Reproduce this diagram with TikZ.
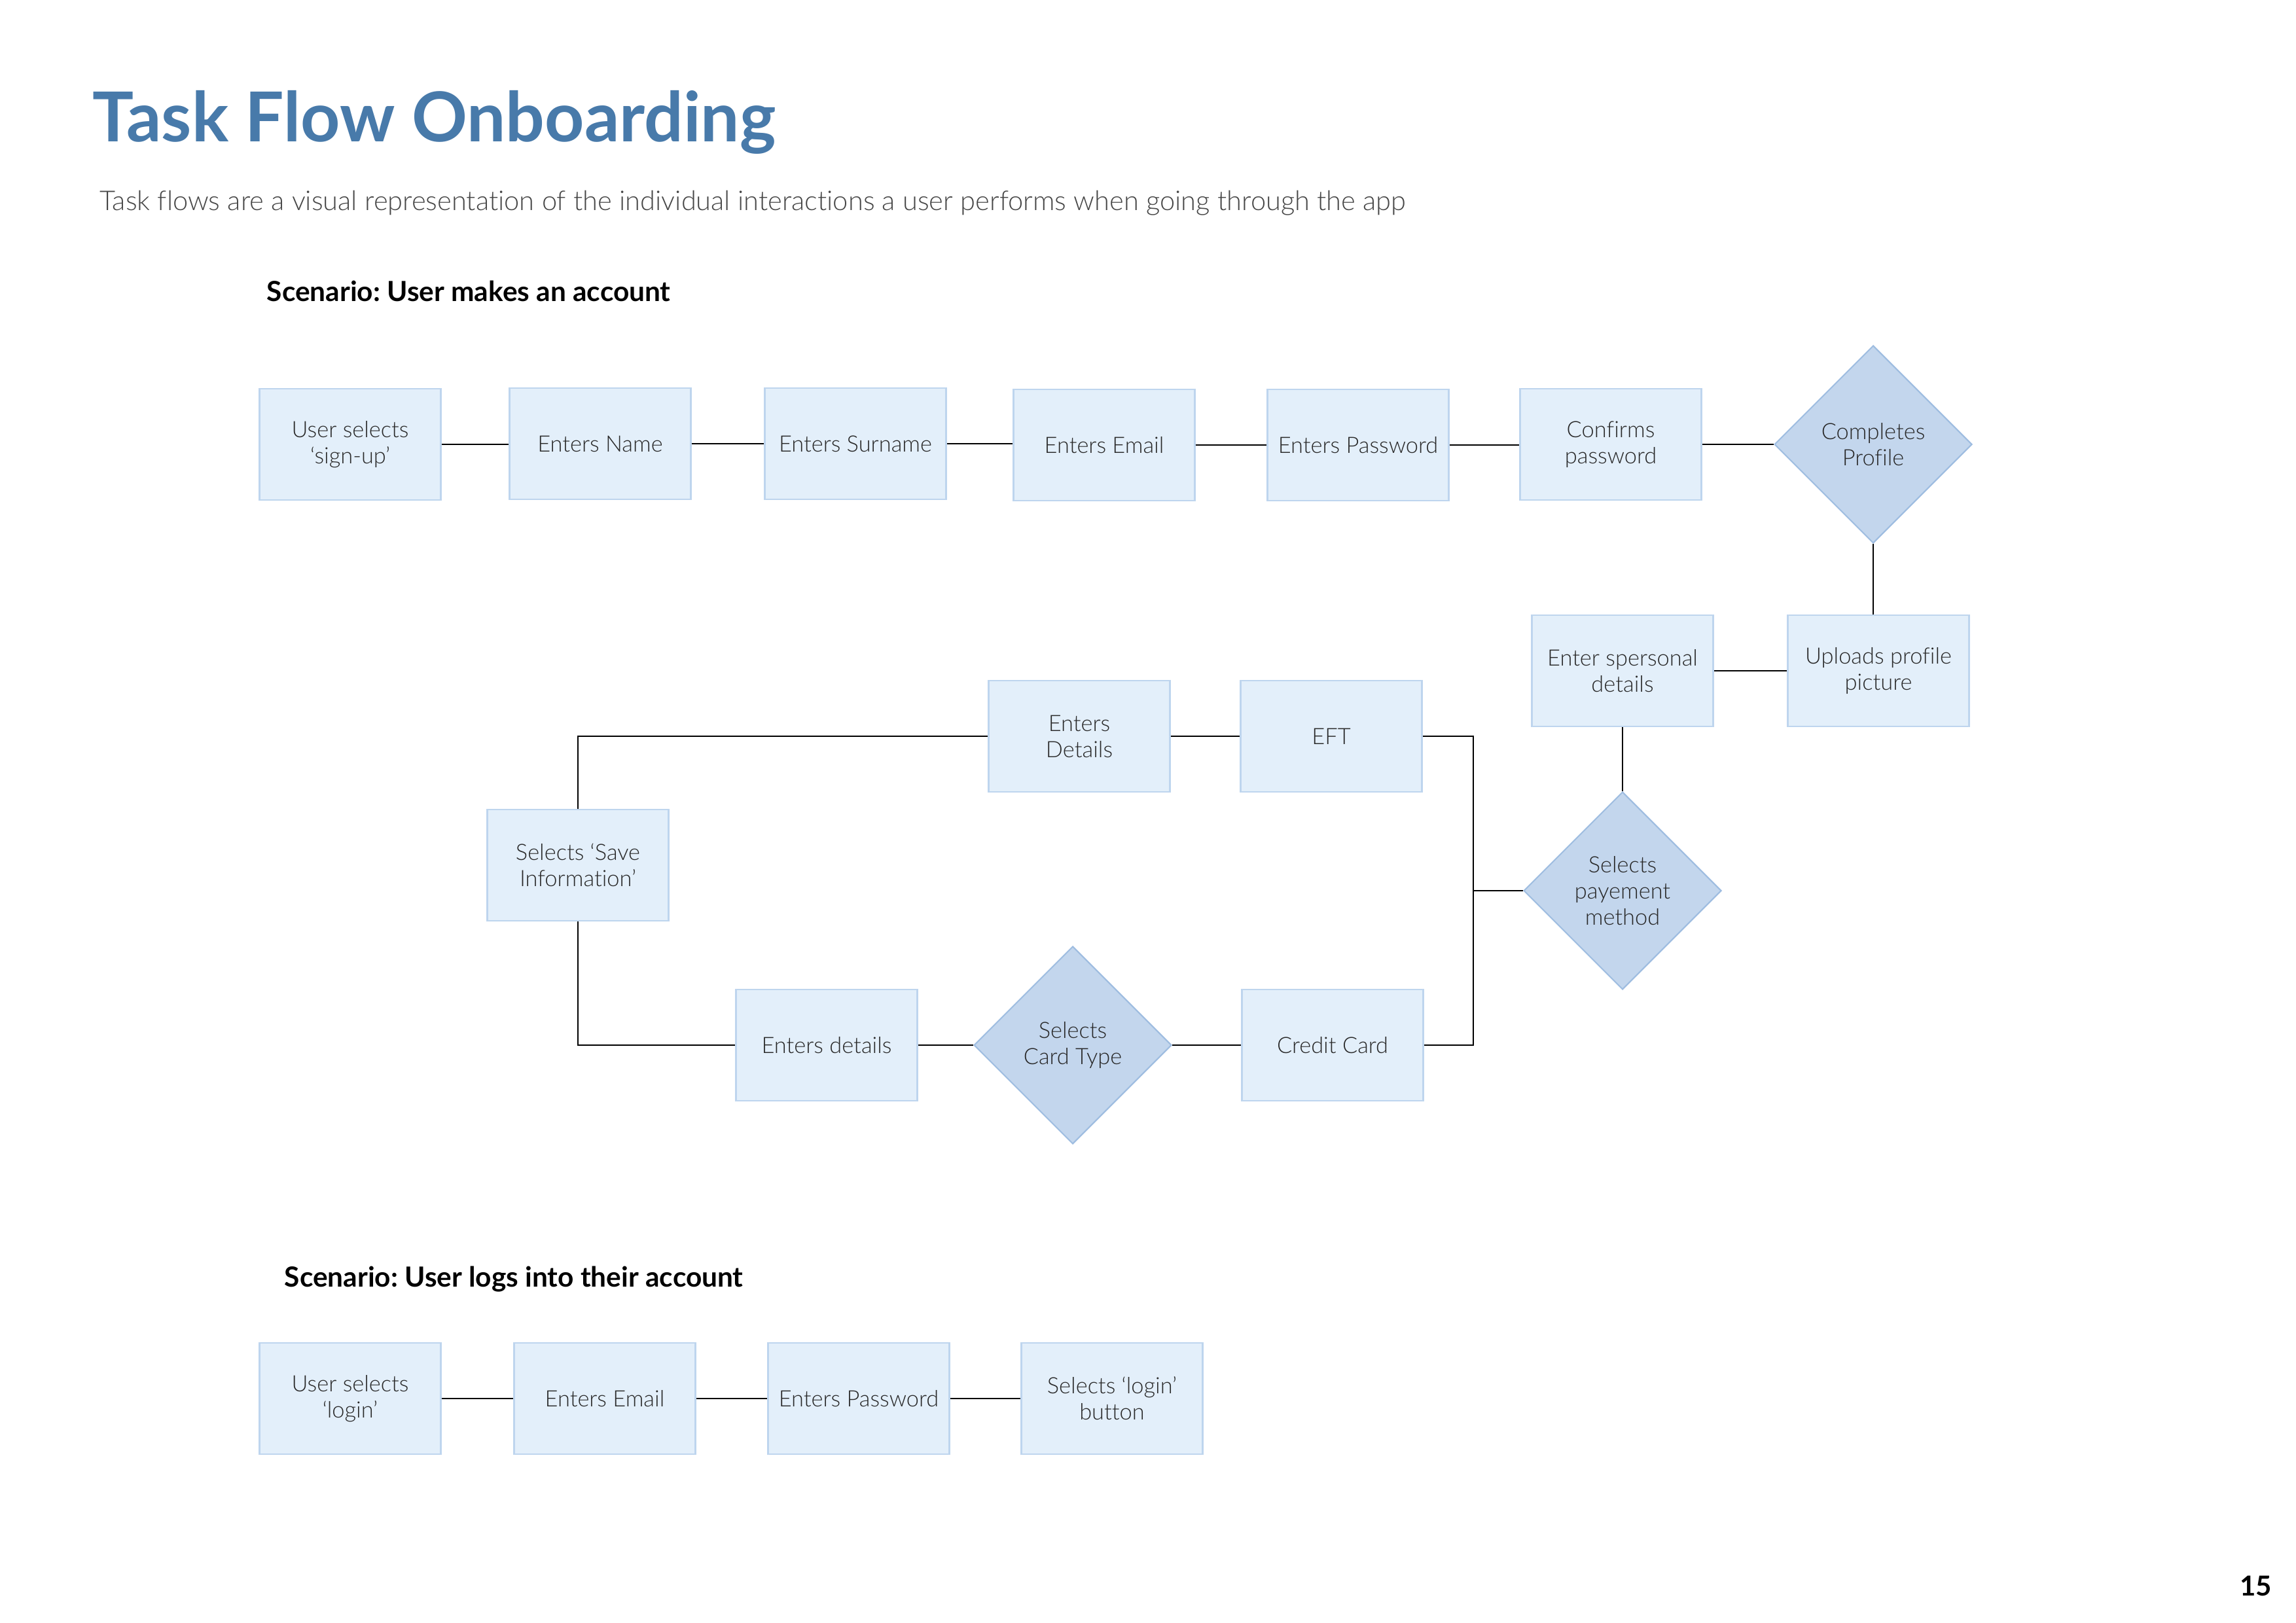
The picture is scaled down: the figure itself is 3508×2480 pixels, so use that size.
\documentclass[tikz,border=0pt]{standalone}
\usepackage{fontspec}
\setmainfont{Lato}[Ligatures=NoCommon]
\newfontfamily\lightfont{Lato Light}[Ligatures=NoCommon]
\usetikzlibrary{shapes.geometric}
\definecolor{titleblue}{RGB}{72,122,170}
\definecolor{boxfill}{RGB}{227,239,250}
\definecolor{boxline}{RGB}{190,213,238}
\definecolor{diafill}{RGB}{195,214,237}
\definecolor{dialine}{RGB}{157,188,224}
\definecolor{txt}{RGB}{40,40,40}
\definecolor{subtxt}{RGB}{70,70,70}
\frenchspacing
\begin{document}
\begin{tikzpicture}[x=0.25pt,y=-0.25pt,
  stepbox/.style={rectangle, draw=boxline, fill=boxfill, line width=0.6pt,
    minimum width=69.25pt, minimum height=42.5pt, align=center, text=txt,
    font=\lightfont\fontsize{8.6}{10}\selectfont, inner sep=0pt},
  decision/.style={diamond, draw=dialine, fill=diafill, line width=0.5pt,
    minimum width=75.5pt, minimum height=75.5pt, aspect=1, align=center, text=txt,
    font=\lightfont\fontsize{8.6}{10}\selectfont, inner sep=0pt},
  link/.style={draw=black, line width=0.5pt},
  label/.style={anchor=base west, inner sep=0pt}]
\fill[white] (0,0) rectangle (3508,2480);
\useasboundingbox (0,0) rectangle (3508,2480);

% headings
\node[label, text=titleblue, font=\fontsize{26.3}{32}\selectfont\bfseries] (title) at (141,217) {Task Flow Onboarding};
\node[label, text=subtxt, font=\lightfont\fontsize{10.4}{13}\selectfont] (sub) at (152,322) {Task flows are a visual representation of the individual interactions a user performs when going through the app};
\node[label, font=\fontsize{10.6}{12}\selectfont\bfseries] (sc1) at (407,461) {Scenario: User makes an account};
\node[label, font=\fontsize{10.6}{12}\selectfont\bfseries] (sc2) at (434,1966) {Scenario: User logs into their account};
\node[anchor=base east, inner sep=0pt, font=\fontsize{10.5}{12}\selectfont\bfseries] (page) at (3472,2438) {15};

% scenario 1
\node[stepbox] (su) at (535,679) {User selects\\‘sign-up’};
\node[stepbox] (nm) at (917,678) {Enters Name};
\node[stepbox] (sn) at (1307,678) {Enters Surname};
\node[stepbox] (em) at (1687,680) {Enters Email};
\node[stepbox] (pw) at (2075,680) {Enters Password};
\node[stepbox] (cp) at (2461,679) {Confirms\\password};
\node[decision] (prof) at (2862,679) {Completes\\Profile};
\node[stepbox] (up) at (2870,1025) {Uploads profile\\picture};
\node[stepbox] (pd) at (2479,1025) {Enter spersonal\\details};
\node[decision] (pay) at (2479,1361) {Selects\\payement\\method};
\node[stepbox] (eft) at (2034,1125) {EFT};
\node[stepbox] (ed) at (1649,1125) {Enters\\Details};
\node[stepbox] (save) at (883,1322) {Selects ‘Save\\Information’};
\node[stepbox] (cc) at (2036,1597) {Credit Card};
\node[decision] (ct) at (1639,1597) {Selects\\Card Type};
\node[stepbox] (ed2) at (1263,1597) {Enters details};
\coordinate (j) at (2251,1361);

\draw[link] (su.east) -- (nm.west |- su.east);
\draw[link] (nm) -- (sn);
\draw[link] (sn.east) -- (em.west |- sn.east);
\draw[link] (em) -- (pw);
\draw[link] (pw.east) -- (cp.west |- pw.east);
\draw[link] (cp) -- (prof);
\draw[link] (prof.south) -- (prof.south |- up.north);
\draw[link] (up.west) -- (pd.east);
\draw[link] (pd) -- (pay);
\draw[link] (pay.west) -- (j);
\draw[link] (eft.east) -| (j);
\draw[link] (cc.east) -| (j);
\draw[link] (eft) -- (ed);
\draw[link] (ed.west) -| (save.north);
\draw[link] (save.south) |- (ed2.west);
\draw[link] (ed2) -- (ct);
\draw[link] (ct) -- (cc);

% scenario 2
\node[stepbox] (lg) at (535,2137) {User selects\\‘login’};
\node[stepbox] (le) at (924,2137) {Enters Email};
\node[stepbox] (lp) at (1312,2137) {Enters Password};
\node[stepbox] (lb) at (1699,2137) {Selects ‘login’\\button};
\draw[link] (lg) -- (le);
\draw[link] (le) -- (lp);
\draw[link] (lp) -- (lb);
\end{tikzpicture}
\end{document}
